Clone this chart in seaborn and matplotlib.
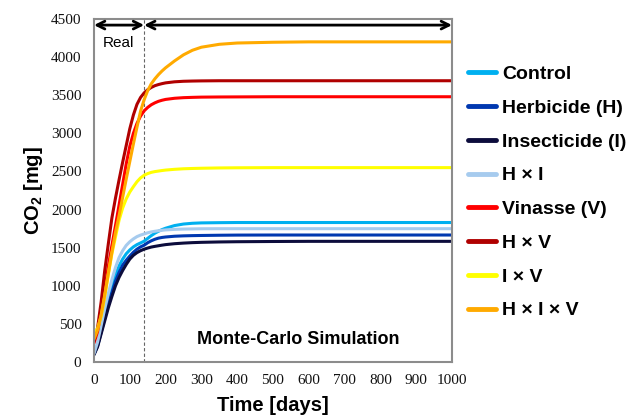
import matplotlib
matplotlib.use("Agg")
import matplotlib.pyplot as plt
import seaborn as sns
import pandas as pd

# ---- data ----
days = [0, 10, 20, 30, 40, 50, 60, 70, 80, 90, 100, 110, 120, 130, 140, 150, 160, 170,
        180, 190, 200, 225, 250, 275, 300, 350, 400, 500, 600, 700, 800, 900, 1000]

control = [110, 220, 410, 610, 810, 990, 1140, 1260, 1350, 1420, 1470, 1510, 1540, 1562, 1585,
           1622, 1658, 1690, 1715, 1737, 1755, 1790, 1810, 1820, 1825, 1828, 1830,
           1830, 1830, 1830, 1830, 1830, 1830]
herbicide = [100, 210, 390, 570, 750, 910, 1060, 1175, 1270, 1335, 1390, 1440, 1480, 1510, 1532,
             1565, 1590, 1610, 1625, 1634, 1640, 1650, 1655, 1658, 1660, 1663, 1665,
             1666, 1666, 1666, 1666, 1666, 1666]
insecticide = [95, 200, 370, 540, 710, 860, 1000, 1110, 1200, 1280, 1350, 1400, 1435, 1460, 1480,
               1495, 1508, 1517, 1525, 1533, 1540, 1552, 1560, 1566, 1570, 1575, 1578,
               1581, 1583, 1583, 1583, 1583, 1583]
h_x_i = [110, 260, 480, 700, 900, 1080, 1240, 1370, 1460, 1530, 1578, 1615, 1645, 1665, 1680,
         1695, 1707, 1715, 1722, 1728, 1733, 1740, 1744, 1746, 1748, 1749, 1749,
         1749, 1749, 1749, 1749, 1749, 1749]
vinasse = [250, 400, 660, 960, 1260, 1530, 1790, 2060, 2330, 2600, 2830, 3000, 3130, 3225, 3295,
           3340, 3375, 3400, 3420, 3434, 3445, 3460, 3468, 3472, 3475, 3477, 3478,
           3480, 3480, 3480, 3480, 3480, 3480]
h_x_v = [270, 450, 790, 1200, 1550, 1890, 2150, 2390, 2620, 2840, 3060, 3240, 3380, 3470, 3530,
         3572, 3602, 3625, 3640, 3652, 3662, 3676, 3683, 3686, 3688, 3690, 3690,
         3690, 3690, 3690, 3690, 3690, 3690]
i_x_v = [370, 440, 600, 860, 1150, 1420, 1640, 1860, 2020, 2140, 2230, 2300, 2365, 2415, 2450,
         2472, 2488, 2498, 2505, 2512, 2518, 2528, 2535, 2539, 2542, 2546, 2548,
         2550, 2550, 2550, 2550, 2550, 2550]
h_x_i_x_v = [300, 420, 620, 880, 1160, 1440, 1700, 1920, 2160, 2400, 2630, 2860, 3080, 3290, 3440,
             3560, 3650, 3715, 3770, 3818, 3860, 3950, 4030, 4090, 4130, 4168, 4185,
             4195, 4200, 4200, 4200, 4200, 4200]

series_names = ["Control", "Herbicide (H)", "Insecticide (I)", "H × I",
                "Vinasse (V)", "H × V", "I × V", "H × I × V"]
series_values = [control, herbicide, insecticide, h_x_i, vinasse, h_x_v, i_x_v, h_x_i_x_v]
colors = ["#00B0F0", "#0038B0", "#0C0C3C", "#A6CBEE",
          "#FF0000", "#B00000", "#FFFF00", "#FFAA00"]

x_ticks = [0, 100, 200, 300, 400, 500, 600, 700, 800, 900, 1000]
y_ticks = [0, 500, 1000, 1500, 2000, 2500, 3000, 3500, 4000, 4500]
real_end = 140

rows = []
for name, vals in zip(series_names, series_values):
    for d, v in zip(days, vals):
        rows.append({"Time": d, "CO2": v, "Treatment": name})
df = pd.DataFrame(rows)

sns.set_style("white")
plt.rcParams["font.family"] = ["Liberation Sans", "DejaVu Sans"]
plt.rcParams["mathtext.fontset"] = "custom"
plt.rcParams["mathtext.bf"] = "Liberation Sans:bold"
plt.rcParams["mathtext.rm"] = "Liberation Sans"
plt.rcParams["text.color"] = "black"
plt.rcParams["axes.labelcolor"] = "black"

fig = plt.figure(figsize=(6.35, 4.19), dpi=100)
ax = fig.add_axes([94 / 635, 1 - 362 / 419, 358 / 635, 343 / 419])

sns.lineplot(data=df, x="Time", y="CO2", hue="Treatment", hue_order=series_names,
             palette=colors, linewidth=2.2, ax=ax, legend=True)

ax.set_xlim(0, 1000)
ax.set_ylim(0, 4500)
ax.set_xticks(x_ticks)
ax.set_yticks(y_ticks)
ax.set_xticklabels([str(t) for t in x_ticks], fontfamily="Liberation Serif", fontsize=11)
ax.set_yticklabels([str(t) for t in y_ticks], fontfamily="Liberation Serif", fontsize=11)
ax.tick_params(axis="both", length=0, pad=9, colors="#111111")

for s in ax.spines.values():
    s.set_color("#8c8c8c")
    s.set_linewidth(1.5)

ax.set_xlabel("Time [days]", fontsize=14.5, fontweight="bold", labelpad=6)
ax.set_ylabel(r"CO$_\mathbf{2}$ [mg]", fontsize=14.5, fontweight="bold", labelpad=4)

ax.axvline(real_end, color="#666666", lw=0.8, ls=(0, (3, 2)), zorder=1)

ax.annotate("", xy=(0, 4420), xytext=(real_end, 4420),
            arrowprops=dict(arrowstyle="<->", color="black", lw=2,
                            shrinkA=0, shrinkB=0, mutation_scale=14))
ax.annotate("", xy=(real_end, 4420), xytext=(1000, 4420),
            arrowprops=dict(arrowstyle="<->", color="black", lw=2,
                            shrinkA=0, shrinkB=0, mutation_scale=14))
ax.text(68, 4190, "Real", ha="center", va="center", fontsize=11)
ax.text(570, 290, "Monte-Carlo Simulation", ha="center", va="center",
        fontsize=13, fontweight="bold")

leg = ax.legend(loc="center left", bbox_to_anchor=(1.045, 0.494), frameon=False,
                borderaxespad=0, borderpad=0, handlelength=1.45, handletextpad=0.3,
                labelspacing=0.83, prop={"weight": "bold", "size": 14})
for line in leg.get_lines():
    line.set_linewidth(3.5)
for t in leg.get_texts():
    t.set_color("black")

fig.savefig("out.png", dpi=100)
